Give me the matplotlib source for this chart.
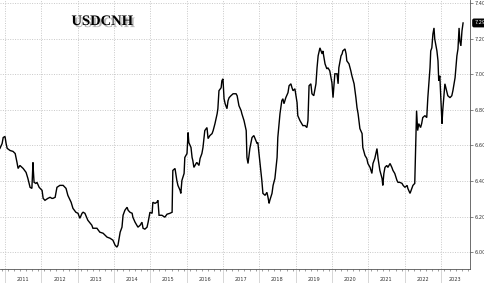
import numpy as np
import matplotlib.pyplot as plt
import matplotlib.patheffects as pe

# decimal year / USDCNH level
dates = [2010.86, 2010.92, 2010.95, 2011.00, 2011.03, 2011.06, 2011.14, 2011.22, 2011.28, 2011.33,
         2011.36, 2011.41, 2011.50, 2011.58, 2011.63, 2011.69, 2011.74, 2011.77, 2011.78, 2011.80,
         2011.85, 2011.88, 2011.94, 2012.02, 2012.05, 2012.10, 2012.18, 2012.24, 2012.29, 2012.32,
         2012.38, 2012.43, 2012.51, 2012.60, 2012.68, 2012.73, 2012.82, 2012.87, 2012.95, 2013.01,
         2013.06, 2013.12, 2013.15, 2013.20, 2013.28, 2013.39, 2013.42, 2013.53, 2013.61, 2013.70,
         2013.81, 2013.89, 2013.97, 2014.03, 2014.08, 2014.11, 2014.17, 2014.22, 2014.25, 2014.30,
         2014.36, 2014.39, 2014.44, 2014.50, 2014.52, 2014.58, 2014.63, 2014.66, 2014.72, 2014.77,
         2014.80, 2014.85, 2014.91, 2014.94, 2014.99, 2015.05, 2015.07, 2015.13, 2015.18, 2015.21,
         2015.24, 2015.32, 2015.40, 2015.46, 2015.54, 2015.60, 2015.62, 2015.68, 2015.73, 2015.76,
         2015.82, 2015.84, 2015.87, 2015.93, 2015.95, 2016.01, 2016.04, 2016.06, 2016.12, 2016.15,
         2016.17, 2016.20, 2016.26, 2016.28, 2016.34, 2016.37, 2016.42, 2016.45, 2016.50, 2016.56,
         2016.59, 2016.64, 2016.70, 2016.73, 2016.78, 2016.84, 2016.86, 2016.89, 2016.95, 2016.97,
         2017.00, 2017.03, 2017.06, 2017.11, 2017.14, 2017.17, 2017.22, 2017.28, 2017.36, 2017.39,
         2017.44, 2017.50, 2017.52, 2017.58, 2017.64, 2017.66, 2017.69, 2017.74, 2017.80, 2017.85,
         2017.94, 2017.96, 2018.02, 2018.07, 2018.10, 2018.16, 2018.21, 2018.24, 2018.27, 2018.29,
         2018.35, 2018.38, 2018.43, 2018.49, 2018.51, 2018.57, 2018.62, 2018.65, 2018.68, 2018.73,
         2018.79, 2018.82, 2018.87, 2018.90, 2018.93, 2018.98, 2019.04, 2019.06, 2019.12, 2019.17,
         2019.20, 2019.26, 2019.31, 2019.34, 2019.37, 2019.42, 2019.45, 2019.50, 2019.56, 2019.59,
         2019.62, 2019.67, 2019.73, 2019.75, 2019.81, 2019.86, 2019.89, 2019.94, 2020.00, 2020.03,
         2020.08, 2020.14, 2020.17, 2020.19, 2020.25, 2020.28, 2020.30, 2020.36, 2020.39, 2020.41,
         2020.47, 2020.52, 2020.55, 2020.61, 2020.66, 2020.69, 2020.72, 2020.77, 2020.83, 2020.85,
         2020.91, 2020.96, 2020.99, 2021.05, 2021.10, 2021.13, 2021.18, 2021.24, 2021.27, 2021.32,
         2021.38, 2021.40, 2021.43, 2021.46, 2021.51, 2021.54, 2021.60, 2021.65, 2021.68, 2021.73,
         2021.79, 2021.82, 2021.87, 2021.93, 2021.96, 2022.01, 2022.07, 2022.09, 2022.15, 2022.20,
         2022.23, 2022.28, 2022.31, 2022.33, 2022.36, 2022.39, 2022.44, 2022.47, 2022.50, 2022.56,
         2022.61, 2022.64, 2022.70, 2022.72, 2022.75, 2022.78, 2022.81, 2022.83, 2022.89, 2022.92,
         2022.94, 2022.97, 2023.00, 2023.03, 2023.05, 2023.11, 2023.17, 2023.19, 2023.25, 2023.30,
         2023.33, 2023.39, 2023.44, 2023.47, 2023.50, 2023.52, 2023.55, 2023.58, 2023.61]
usdcnh = [6.583, 6.610, 6.644, 6.650, 6.610, 6.583, 6.571, 6.566, 6.554, 6.504,
          6.470, 6.487, 6.470, 6.448, 6.414, 6.364, 6.358, 6.504, 6.459, 6.392,
          6.386, 6.392, 6.364, 6.347, 6.302, 6.291, 6.302, 6.308, 6.302, 6.302,
          6.308, 6.364, 6.375, 6.375, 6.358, 6.319, 6.280, 6.246, 6.224, 6.218,
          6.190, 6.218, 6.224, 6.218, 6.179, 6.151, 6.134, 6.134, 6.112, 6.106,
          6.084, 6.078, 6.067, 6.039, 6.028, 6.039, 6.112, 6.140, 6.207, 6.235,
          6.252, 6.235, 6.224, 6.218, 6.196, 6.168, 6.151, 6.140, 6.151, 6.168,
          6.134, 6.129, 6.140, 6.168, 6.224, 6.218, 6.280, 6.274, 6.280, 6.291,
          6.207, 6.207, 6.196, 6.213, 6.218, 6.224, 6.459, 6.470, 6.403, 6.375,
          6.347, 6.330, 6.403, 6.442, 6.532, 6.554, 6.672, 6.616, 6.588, 6.532,
          6.515, 6.476, 6.498, 6.504, 6.487, 6.526, 6.554, 6.588, 6.683, 6.700,
          6.638, 6.655, 6.666, 6.683, 6.722, 6.778, 6.806, 6.907, 6.924, 6.963,
          6.974, 6.862, 6.834, 6.806, 6.851, 6.868, 6.879, 6.890, 6.890, 6.879,
          6.823, 6.795, 6.778, 6.739, 6.683, 6.532, 6.498, 6.582, 6.644, 6.655,
          6.610, 6.616, 6.498, 6.403, 6.330, 6.319, 6.336, 6.308, 6.274, 6.291,
          6.330, 6.375, 6.414, 6.532, 6.644, 6.778, 6.851, 6.862, 6.834, 6.868,
          6.896, 6.935, 6.946, 6.924, 6.907, 6.918, 6.840, 6.767, 6.739, 6.722,
          6.711, 6.711, 6.700, 6.739, 6.935, 6.946, 6.890, 6.879, 6.946, 7.036,
          7.103, 7.148, 7.114, 7.131, 7.058, 7.030, 7.036, 7.019, 6.952, 6.868,
          7.002, 7.002, 6.946, 7.036, 7.103, 7.114, 7.131, 7.142, 7.114, 7.075,
          7.058, 7.019, 6.991, 6.946, 6.868, 6.812, 6.778, 6.694, 6.666, 6.588,
          6.543, 6.526, 6.498, 6.476, 6.442, 6.498, 6.526, 6.582, 6.526, 6.459,
          6.414, 6.375, 6.442, 6.476, 6.487, 6.476, 6.498, 6.476, 6.459, 6.442,
          6.403, 6.392, 6.392, 6.386, 6.375, 6.364, 6.375, 6.358, 6.330, 6.358,
          6.375, 6.386, 6.627, 6.795, 6.683, 6.722, 6.700, 6.722, 6.756, 6.767,
          6.756, 6.868, 7.036, 7.131, 7.148, 7.226, 7.260, 7.198, 7.131, 7.075,
          6.963, 6.991, 6.851, 6.722, 6.795, 6.946, 6.896, 6.879, 6.868, 6.879,
          6.907, 6.980, 7.103, 7.142, 7.260, 7.187, 7.159, 7.243, 7.288]

years = list(range(2011, 2024))
y_ticks = [6.00, 6.20, 6.40, 6.60, 6.80, 7.00, 7.20, 7.40]
last_label = '7.29'

fig = plt.figure(figsize=(4.85, 2.83), dpi=100)
ax = fig.add_axes([0.0, 0.0495, 0.969, 0.9505])

ax.plot(dates, usdcnh, color='black', lw=1.0, solid_joinstyle='miter')

ax.set_xlim(2010.862, 2023.80)
ax.set_ylim(5.905, 7.417)

# y axis on the right
ax.yaxis.tick_right()
ax.set_yticks(y_ticks)
ax.set_yticklabels(['%.2f' % v for v in y_ticks])
ax.tick_params(axis='y', labelsize=3.6, labelcolor='#333333', length=2, width=0.5,
               color='#555555', pad=1)

# x axis: year boundaries as long light ticks, year names centred in each year
ax.set_xticks(years)
ax.set_xticklabels([])
ax.tick_params(axis='x', which='major', length=14, width=0.6, color='#d0d0d0')
ax.set_xticks([y + 0.5 for y in years[:-1]] + [2023.40], minor=True)
ax.set_xticklabels([str(y) for y in years], minor=True)
ax.tick_params(axis='x', which='minor', length=0, labelsize=3.6, labelcolor='#333333', pad=6)

# small month ticks along bottom axis
sec = ax.secondary_xaxis('bottom')
sec.set_xticks(np.arange(2010.917, 2023.80, 1 / 6))
sec.set_xticklabels([])
sec.tick_params(length=1.5, width=0.5, color='#777777')
sec.spines['bottom'].set_visible(False)

ax.grid(True, which='major', color='#c8c8c8', linestyle=(0, (1, 1.5)), lw=0.7)

for s in ['top', 'left']:
    ax.spines[s].set_visible(False)
ax.spines['right'].set_color('#555555')
ax.spines['right'].set_linewidth(0.6)
ax.spines['bottom'].set_color('#555555')
ax.spines['bottom'].set_linewidth(0.6)

ax.text(0.218, 0.92, 'USDCNH', transform=ax.transAxes, ha='center', va='center',
        fontsize=10.5, fontweight='bold', family='Liberation Serif', color='black',
        path_effects=[pe.SimplePatchShadow(offset=(1.5, -1.5), shadow_rgbFace='#888888', alpha=0.6),
                      pe.Normal()])

# last value tag
ax.annotate(last_label, xy=(1.0, usdcnh[-1]), xycoords=('axes fraction', 'data'),
            xytext=(3, 0), textcoords='offset points', ha='left', va='center',
            fontsize=3.6, color='white',
            bbox=dict(boxstyle='round,pad=0.25', fc='black', ec='black'))

fig.savefig('out.png', dpi=100)
